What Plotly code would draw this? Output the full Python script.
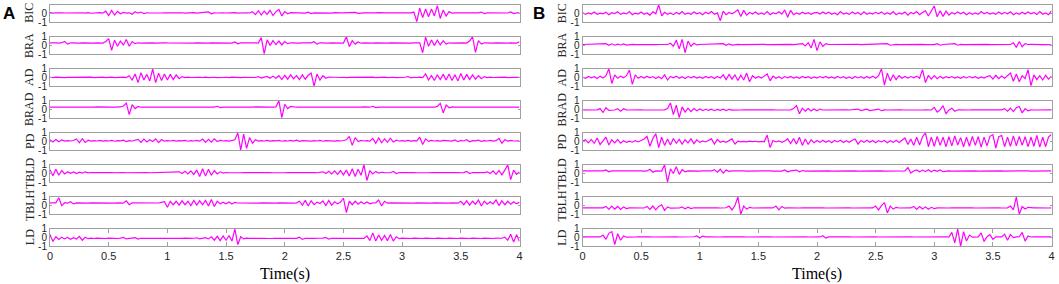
import numpy as np
import plotly.graph_objects as go

# ---------------- data (sampled every 0.025 s, 0..4 s) ----------------
channel_names = ['BIC', 'BRA', 'AD', 'BRAD', 'PD', 'TBLD', 'TBLH', 'LD']
x_tick_vals = [0, 0.5, 1, 1.5, 2, 2.5, 3, 3.5, 4]
x_tick_text = ['0', '0.5', '1', '1.5', '2', '2.5', '3', '3.5', '4']
y_tick_vals = [-1, 0, 1]
y_tick_text = ['-1', '0', '1']

A_BIC = [.08,.02,.07,.03,.06,.04,.05,.08,.02,.06,.04,.07,.03,.09,.01,.06,.05,.08,.02,.25,
         -.25,.35,-.2,.22,-.05,.1,.03,.06,-.1,.18,.02,.15,-.02,.07,.04,.06,.03,.07,.04,.05,
         .06,.03,.08,.04,.05,.07,.02,.06,.05,.08,.03,.06,.04,.07,.16,-.05,.06,.04,.07,.05,
         .04,.06,.05,.08,.03,.06,.05,.07,.04,.2,-.15,.3,-.2,.25,-.1,.35,-.25,.2,.45,-.3,
         .2,-.05,.08,.04,.06,.05,.07,.03,.14,-.02,.06,.05,.04,.07,.05,.06,.03,.08,.04,.06,
         .05,.07,.04,.06,.12,.0,.06,.05,.07,.04,.06,.05,.08,.03,.06,.05,.07,.04,.06,.05,
         .06,.04,.07,.05,.15,-.95,.6,-.5,.5,-.4,.5,-.3,.9,-.6,.4,-.3,.2,.02,.06,.05,
         .07,.04,.06,.05,.07,.04,.06,.15,-.03,.06,.05,.07,.04,.06,.05,.07,.04,.16,-.02,.06,
         .05]
A_BRA = [.3,.26,.29,.27,.31,.45,.15,.3,.27,.29,.26,.3,.28,.27,.3,.26,.29,.28,.27,.45,
         .78,-.57,.6,-.1,.5,.05,.68,-.1,.45,.2,.3,.27,.29,.26,.3,.28,.27,.3,.26,.29,
         .28,.27,.3,.26,.29,.28,.31,.27,.29,.26,.3,.28,.27,.3,.26,.29,.28,.27,.3,.26,
         .29,.28,.27,.4,.18,.29,.27,.3,.26,.28,.29,.27,.9,-.95,.65,.0,.55,.1,.5,.05,
         .45,.2,.3,.27,.29,.26,.3,.28,.27,.29,.43,.15,.3,.27,.29,.26,.3,.28,.27,.29,
         .27,1.0,-.15,.55,.15,.4,.25,.3,.27,.29,.26,.3,.28,.27,.3,.26,.29,.28,.27,.3,
         .26,.29,.28,.27,.3,.26,.29,-.85,.95,-.1,.62,.0,.6,.05,.55,.15,.3,.27,.29,.26,
         .3,.28,.27,.5,1.0,-.8,.55,.15,.3,.27,.29,.26,.3,.28,.27,.3,.26,.29,.28,.27,
         .43]
A_AD = [.02,-.02,.03,-.01,.02,-.03,.01,.02,-.02,.03,-.01,.02,-.02,.01,.03,-.02,.02,-.01,.03,-.02,
        .01,.03,-.02,.02,-.01,.03,-.02,.2,-.3,.4,-.6,.55,-.3,.35,-.4,1.0,-.6,.5,-.35,.4,
        -.3,.35,-.25,.3,-.15,.1,-.02,.03,-.01,.02,-.03,.02,-.01,.03,-.02,.01,.02,-.03,.02,-.01,
        .02,-.02,.03,-.01,.02,-.03,.01,.02,-.02,.03,-.01,.1,-.08,.03,.12,-.1,.15,-.1,.2,-.25,
        .25,-.2,.3,-.15,.2,-.25,.3,-.2,.25,.5,-1.0,.4,-.3,.2,-.1,.05,.02,-.02,.03,-.01,
        .02,-.03,.01,.02,-.02,.03,-.01,.02,-.02,.01,.03,-.02,.02,-.01,.03,-.02,.01,.02,-.03,.02,
        -.01,.02,.1,-.05,.02,-.01,.03,-.02,.4,-.3,.2,-.35,.3,-.25,.35,-.3,.4,-.35,.3,-.4,
        .45,-.3,.35,-.25,.3,-.2,.2,-.15,.1,-.02,.03,-.01,.02,-.02,.01,.03,-.02,.02,-.01,.02,
        .0]
A_BRAD = [.28,.26,.27,.29,.26,.28,.27,.26,.28,.27,.29,.26,.27,.28,.26,.27,.29,.27,.26,.28,
          .27,.26,.28,.27,.29,.4,.73,-.6,.55,.1,.35,.26,.28,.27,.26,.28,.27,.29,.26,.27,
          .28,.26,.27,.29,.27,.26,.28,.27,.26,.28,.27,.29,.26,.27,.28,.26,.27,.37,.22,.28,
          .27,.26,.28,.27,.29,.26,.27,.28,.26,.27,.29,.27,.26,.28,.27,.26,.28,.3,1.0,-.95,
          .6,.1,.35,.27,.26,.28,.27,.29,.26,.27,.28,.26,.27,.29,.27,.26,.28,.27,.26,.28,
          .27,.29,.26,.27,.28,.26,.27,.29,.27,.26,.37,.22,.27,.26,.28,.27,.29,.26,.27,.28,
          .26,.27,.29,.27,.26,.28,.27,.26,.28,.27,.29,.26,.35,.7,-.4,.5,.2,.3,.27,.26,
          .28,.27,.29,.26,.27,.28,.26,.27,.29,.27,.26,.28,.27,.26,.28,.27,.29,.26,.27,.28,
          .27]
A_PD = [.2,-.05,.22,-.02,.18,.05,.1,.06,.12,.3,-.15,.32,-.1,.15,.05,.1,.06,.12,.04,.1,
        .06,.12,.03,.1,.07,.15,.0,.1,.06,.12,.25,-.1,.28,-.05,.2,.0,.3,-.12,.22,.04,
        .1,.06,.12,.04,.1,.07,.13,.03,.1,.06,.12,.04,.28,-.1,.25,-.08,.3,.0,.12,.06,
        .1,.05,.12,.2,1.0,-1.0,.85,-.8,.45,-.2,.2,.05,.1,.06,.12,.04,.1,.07,.13,.03,
        .1,.06,.12,.04,.15,.02,.1,.07,.12,.04,.1,.06,.13,.03,.1,.07,.12,.04,.1,.06,
        .12,.2,.6,-.45,.45,.0,.12,.06,.1,.04,.35,-.2,.4,-.15,.3,-.1,.38,-.05,.15,.06,
        .1,.05,.12,.04,.1,.07,.5,-.35,.3,.02,.12,.06,.1,.04,.12,.07,.1,.05,.18,-.02,
        .12,.06,.2,-.04,.1,.07,.15,.02,.1,.06,.12,.04,.1,.35,-.2,.2,.05,.12,.06,.1,
        .08]
A_TBLD = [.45,-.25,.5,-.2,.35,-.05,.2,.02,.18,.0,.15,.05,.2,.08,.12,.09,.11,.1,.12,.09,
          .11,.1,.09,.12,.1,.11,.09,.1,.12,.1,.09,.11,.1,.12,.09,.1,.11,.09,.12,.1,
          .09,.11,.1,.12,.2,.0,.25,-.05,.3,-.1,.4,-.35,.55,-.3,.5,-.2,.35,-.05,.2,.05,
          .12,.09,.11,.1,.12,.09,.1,.11,.09,.12,.1,.11,.09,.1,.12,.1,.09,.11,.1,.12,
          .09,.1,.11,.09,.12,.1,.11,.09,.1,.12,.1,.09,.11,.2,.0,.25,-.05,.3,-.1,.35,
          -.15,.4,-.3,.55,-.35,.5,-.2,1.0,-.8,.35,-.05,.25,.05,.15,.1,.11,.09,.25,.0,.12,
          .1,.11,.09,.12,.1,.09,.11,.1,.12,.09,.1,.11,.09,.12,.1,.11,.09,.1,.12,.1,
          .09,.11,.25,.0,.12,.1,.09,.11,.1,.2,.0,.3,-.1,.35,-.15,.4,1.0,-.7,.4,-.1,
          .2]
A_TBLH = [.31,.29,.32,.9,.0,.35,.28,.45,.2,.31,.29,.3,.32,.28,.31,.3,.29,.32,.3,.28,
          .31,.3,.29,.32,.3,.28,.55,.1,.31,.3,.29,.32,.28,.31,.3,.29,.32,.3,.38,.45,
          -.2,.5,.1,.5,.05,.55,.1,.5,.0,.6,.05,.55,.1,.6,-.05,.7,-.1,.5,.2,.4,
          .2,.42,.18,.38,.3,.29,.32,.3,.28,.31,.3,.29,.32,.3,.28,.31,.3,.29,.32,.3,
          .28,.31,.3,.29,.32,.5,.05,.6,-.05,.55,.1,.4,.25,.55,.0,.6,.05,.45,.2,.4,
          .85,-.8,.5,.1,.5,.15,.45,.2,.42,.2,.31,.3,.65,-.05,.5,.28,.31,.3,.29,.32,
          .3,.28,.31,.3,.29,.32,.3,.28,.31,.3,.29,.32,.3,.28,.31,.3,.29,.32,.3,.28,
          .5,.1,.55,.05,.5,.15,.65,-.05,.5,.15,.45,.2,.65,.0,.55,.1,.5,.15,.45,.2,
          .4]
A_LD = [.35,-.45,.1,-.2,.05,-.15,.02,-.18,.0,-.15,.15,-.3,.05,-.12,-.05,-.1,-.06,-.09,-.07,-.1,
        -.06,-.09,-.07,-.1,-.06,.02,-.15,-.08,-.06,.0,-.16,-.07,-.09,-.06,-.1,-.07,-.09,-.06,-.1,-.08,
        -.07,-.09,-.06,-.1,-.07,-.09,-.06,-.1,-.08,-.07,-.02,-.14,-.06,.0,-.15,.1,-.3,.15,-.35,.2,
        -.3,.25,-.4,1.0,-.8,.1,-.15,-.05,-.09,-.07,-.1,-.06,-.09,-.07,-.1,-.06,-.09,-.07,-.1,-.06,
        -.09,-.07,-.1,-.06,-.09,.05,-.2,-.07,-.1,-.06,-.09,-.07,-.1,-.06,.03,-.18,-.07,-.1,-.06,-.09,
        -.07,-.1,-.06,-.09,-.07,-.1,-.06,-.09,.2,-.35,.55,-.4,.3,-.3,.25,-.35,.35,-.4,.1,-.12,
        -.06,-.09,-.07,-.1,-.06,-.09,-.07,-.1,-.06,-.09,-.07,-.1,-.06,-.09,-.07,-.1,-.06,-.09,-.07,-.1,
        -.06,-.09,-.07,-.1,-.06,-.09,-.07,-.1,-.06,-.09,-.07,-.1,-.06,-.09,-.07,.05,-.3,.4,-.5,.35,
        -.45]

B_BIC = [.1,-.12,.05,-.08,.15,-.1,.02,-.05,.12,-.15,.08,-.03,.18,-.12,.05,-.06,.2,-.15,.03,-.08,
         .15,-.1,.05,-.2,.18,-.05,1.0,-.3,.12,-.1,.05,-.15,.1,-.08,.2,-.12,.05,-.1,.15,-.05,
         .08,-.15,.12,-.05,.2,-.1,.05,-.85,.25,-.15,.1,-.05,.15,.4,-.35,.35,-.2,.1,-.08,.15,
         -.1,.05,-.12,.2,-.15,.08,-.05,.18,-.1,.4,-.45,.35,-.15,.05,-.1,.12,-.05,.08,-.12,.05,
         .1,-.08,.15,-.05,.12,-.1,.05,-.15,.2,-.08,.05,-.12,.15,-.05,.1,-.15,.18,-.1,.05,-.08,
         .12,-.05,.15,-.12,.08,-.1,.2,-.15,.05,-.08,.15,-.2,.1,-.05,.2,-.15,.1,.3,-.3,.35,
         .85,-.4,.3,-.35,.25,-.2,.1,-.08,.15,-.05,.12,-.15,.08,-.1,.05,-.12,.2,-.05,.1,-.08,
         .05,-.12,.15,-.08,.12,-.05,.18,-.15,.05,-.1,.12,-.08,.15,-.05,.1,-.12,.2,-.1,.05,-.15,
         .3]
B_BRA = [.1,.11,.09,.1,.12,.09,.1,.11,.2,.0,.18,.02,.15,.05,.18,.04,.1,.11,.09,.12,
         .1,.09,.11,.1,.12,.09,.1,.11,.09,.1,.25,-.1,.6,-.4,.7,-.85,.5,-.1,.25,.05,
         .1,.11,.09,.1,.12,.09,.1,.11,.2,.0,.18,.03,.1,.11,.09,.1,.12,.09,.1,.11,
         .09,.1,.12,.09,.1,.11,.09,.1,.12,.09,.1,.11,.09,.1,.12,.2,-.05,.3,-.3,.7,
         -.6,.4,-.1,.2,.1,.11,.09,.1,.12,.09,.1,.11,.09,.1,.12,.09,.1,.11,.09,.1,
         .12,.09,.1,.11,.2,.02,.1,.11,.09,.1,.12,.09,.1,.11,.09,.1,.12,.09,.1,.11,
         .09,.2,.02,.1,.12,.09,.1,.2,.02,.11,.09,.1,.12,.09,.1,.11,.09,.1,.12,.09,
         .1,.11,.09,.1,.12,.09,.1,.3,-.25,.45,-.15,.2,.1,.11,.09,.1,.12,.09,.1,.11,
         .05]
B_AD = [.05,-.1,.12,-.05,.08,-.12,.15,-.08,.2,1.0,-.7,.3,-.1,.15,-.05,.2,.85,-.8,.3,-.1,
        .12,-.08,.15,-.05,.1,-.12,.08,-.15,.3,-.3,.12,-.05,.15,-.1,.08,-.12,.1,-.05,.12,-.08,
        .05,-.1,.12,-.05,.08,-.12,.1,-.06,.3,-.25,.35,-.2,.3,-.35,.25,-.3,.5,-.5,.2,-.1,
        .12,-.08,.15,.4,-.4,.15,-.1,.08,-.12,.1,-.05,.12,-.08,.05,-.1,.12,-.05,.08,-.1,.06,
        -.08,.1,-.05,.12,-.08,.05,-.1,.12,-.06,.08,-.1,.05,-.12,.1,-.06,.08,-.1,.12,-.08,.15,
        -.1,.2,1.0,-.9,.5,-.4,.3,-.25,.2,-.1,.12,-.08,.1,-.05,.15,-.1,.9,-.6,.25,-.2,
        .2,-.15,.12,-.1,.08,-.05,.1,-.08,.05,-.1,.08,-.06,.1,-.05,.08,-.1,.06,-.08,.1,.2,
        -.2,.25,-.15,.15,-.1,.2,.5,-.45,.4,-.5,.2,-.15,.9,-.95,.3,-.25,.2,-.3,.25,-.2,
        .15]
B_BRAD = [-.04,-.06,-.05,-.04,-.06,-.05,.1,-.35,.2,-.1,-.04,-.06,.1,-.2,.08,-.05,-.06,-.04,-.05,-.06,
          -.04,-.06,-.05,-.04,-.06,-.05,-.04,-.06,-.05,.1,.75,-.6,.5,-.95,.3,-.3,.15,-.25,.1,-.15,
          .05,-.12,.02,-.1,.03,-.14,.0,-.1,.04,-.12,.02,-.08,-.05,-.04,-.06,-.05,-.04,-.06,-.05,-.04,
          -.06,-.05,-.04,-.06,-.05,-.04,-.06,-.05,-.04,-.06,-.05,-.04,.1,.45,-.5,.15,-.2,.1,-.18,.05,
          -.15,.05,-.06,-.05,-.04,-.06,-.05,-.04,-.06,-.05,-.04,-.06,-.05,-.04,.05,-.13,-.05,.04,-.12,-.05,
          -.04,.05,-.14,-.05,-.06,-.04,-.05,-.06,-.04,-.05,-.06,-.04,-.05,-.06,-.04,-.05,-.06,-.04,-.05,-.06,
          .25,-.3,-.05,.45,-.5,-.05,.15,-.2,-.04,-.06,-.05,-.04,-.06,-.05,-.04,-.06,-.05,-.04,-.06,-.05,
          -.04,-.06,-.05,-.04,.1,-.2,.15,-.25,.2,.35,-.4,.1,-.15,-.04,-.06,-.05,-.04,-.06,-.05,-.04,
          -.05]
B_PD = [.02,.2,-.15,.25,-.2,.4,-.35,.15,.5,-.4,.2,-.15,.25,-.2,.08,-.1,.05,-.08,.1,-.05,
        .08,.3,.6,-.55,.35,.9,-.7,.5,-.45,.3,-.4,.35,-.2,.25,-.3,.2,-.15,.3,-.25,.2,
        -.1,.08,-.05,.1,.3,-.3,.25,-.08,.05,-.1,.08,.3,-.3,.03,-.04,.02,-.03,.04,-.02,.03,
        -.04,.02,-.03,.75,-.7,.1,-.05,.08,-.1,.05,.3,-.25,.35,-.3,.5,-.45,.3,-.35,.2,-.15,
        .12,-.1,.15,-.08,.1,-.15,.12,-.05,.15,-.12,.1,-.08,.15,.3,-.3,.12,-.1,.15,-.08,.12,
        -.15,.1,-.05,.12,-.15,.08,-.1,.15,-.12,.1,.4,-.35,.3,-.45,.5,-.4,.55,1.0,-.6,.5,
        -.55,.6,-.45,.5,-.6,.55,-.5,.65,-.4,.45,-.6,.5,-.55,.6,-.45,.55,-.65,.5,-.5,.6,
        .8,-.75,.55,.7,-.6,.5,-.55,.65,-.5,.6,-.45,.55,-.6,.5,-.55,.7,-.65,.5,-.6,.55,
        .8]
B_TBLD = [.3,.31,.29,.3,.32,.29,.3,.31,.42,.2,.3,.31,.29,.3,.32,.29,.3,.31,.29,.3,
          .32,.29,.3,.5,.15,.3,.31,.29,1.0,-1.0,.55,.0,.8,-.1,.45,.2,.31,.29,.3,.32,
          .29,.3,.31,.29,.3,.45,.15,.5,.05,.4,.25,.3,.32,.29,.3,.31,.29,.3,.32,.29,
          .3,.31,.29,.3,.32,.29,.3,.31,.29,.42,.2,.3,.31,.4,.2,.35,.29,.3,.32,.29,
          .3,.31,.29,.3,.32,.29,.3,.31,.29,.3,.32,.29,.3,.31,.29,.3,.32,.29,.3,.31,
          .29,.3,.32,.29,.3,.31,.29,.3,.32,.29,.3,.7,.05,.3,.42,.2,.4,.22,.45,.2,
          .4,.25,.42,.22,.3,.31,.29,.3,.32,.29,.3,.31,.29,.3,.32,.29,.3,.31,.29,.3,
          .32,.29,.3,.31,.29,.3,.32,.29,.3,.31,.29,.3,.32,.29,.3,.31,.29,.3,.32,.29,
          .3]
B_TBLH = [-.27,-.26,-.28,-.27,-.25,-.28,-.27,-.26,-.1,-.45,-.05,-.4,-.1,-.45,-.15,-.35,-.27,-.26,-.28,-.27,
          -.25,-.28,-.1,-.45,-.05,-.5,-.1,.1,-.55,-.15,-.3,-.27,-.26,-.28,-.15,-.38,-.18,-.35,-.25,-.27,
          -.26,-.28,-.27,-.25,-.28,-.27,-.26,-.28,-.27,-.25,-.05,-.5,.0,1.0,-1.0,-.05,-.4,-.2,-.28,-.27,
          -.26,-.28,-.27,-.25,-.28,-.27,-.05,-.5,-.1,-.3,-.26,-.28,-.27,-.25,-.28,-.27,-.26,-.28,-.27,-.25,
          -.28,-.27,-.26,-.28,-.27,-.25,-.28,-.27,-.26,-.28,-.27,-.25,-.28,-.27,-.26,-.28,-.27,-.25,-.28,-.27,
          -.05,-.5,.0,.35,-.85,-.05,-.4,-.2,-.28,-.27,-.26,-.28,-.27,-.1,-.45,-.12,-.4,-.15,-.42,-.2,
          -.35,-.26,-.28,-.27,-.25,-.28,-.27,-.26,-.28,-.27,-.25,-.28,-.27,-.26,-.28,-.27,-.25,-.28,-.27,-.26,
          -.28,-.27,-.25,-.28,-.27,-.26,-.05,-.5,1.0,-1.0,-.1,-.4,-.2,-.28,-.27,-.26,-.28,-.27,-.25,-.28,
          -.27]
B_LD = [.08,.09,.07,.08,.1,.07,.08,.3,-.2,.5,.7,-.8,.45,-.3,.2,.05,.08,.09,.07,.08,
        .1,.07,.08,.09,.07,.08,.1,.07,.08,.09,.07,.08,.1,.07,.08,.09,.07,.08,.1,.2,
        -.05,.18,.08,.09,.07,.08,.1,.07,.08,.09,.07,.08,.1,.07,.08,.09,.07,.08,.1,.07,
        .08,.09,.07,.08,.1,.07,.08,.09,.07,.08,.1,.07,.08,.09,.07,.08,.1,.07,.08,.09,
        .07,.08,.22,-.06,.08,.09,.07,.08,.1,.07,.08,.09,.07,.08,.1,.07,.08,.09,.07,.08,
        .1,.07,.08,.09,.07,.08,.1,.07,.08,.09,.07,.08,.1,.07,.08,.09,.07,.08,.1,.07,
        .08,.09,.07,.08,.1,.07,.6,-.6,1.0,-1.0,.7,-.4,.3,.05,.08,.09,.55,-.45,.1,.35,
        -.2,.1,.08,.09,.4,-.3,.35,.0,.08,.1,.6,-.4,.2,.07,.08,.09,.07,.08,.1,.07,
        .08]

panel_A = [A_BIC, A_BRA, A_AD, A_BRAD, A_PD, A_TBLD, A_TBLH, A_LD]
panel_B = [B_BIC, B_BRA, B_AD, B_BRAD, B_PD, B_TBLD, B_TBLH, B_LD]

# ---------------- layout ----------------
W, H = 1059, 284
GRAY = '#a0a0a0'
TXT = '#262626'
SIG = '#FF00FF'
SANS = 'Liberation Sans, Arial, sans-serif'
SERIF = 'Liberation Serif, Times New Roman, serif'

panels = [('A', panel_A, 50.0, 519.5, 9.0), ('B', panel_B, 582.5, 1051.5, 539.0)]
row_top0, pitch, row_h = 4.7, 32.04, 17.3

fig = go.Figure()
layout = {}
annotations = []
k = 0
for lab, data, x0, x1, labx in panels:
    for r, name in enumerate(channel_names):
        k += 1
        xa = 'x' if k == 1 else f'x{k}'
        ya = 'y' if k == 1 else f'y{k}'
        vals = data[r]
        t = np.linspace(0, 4, len(vals))
        fig.add_trace(go.Scatter(x=t, y=vals, xaxis=xa, yaxis=ya, mode='lines',
                                 line=dict(color=SIG, width=1.2), showlegend=False,
                                 hoverinfo='skip'))
        top = row_top0 + pitch * r
        bot = top + row_h
        bottom_row = (r == len(channel_names) - 1)
        xkey = 'xaxis' if k == 1 else f'xaxis{k}'
        ykey = 'yaxis' if k == 1 else f'yaxis{k}'
        layout[xkey] = dict(domain=[x0 / W, x1 / W], anchor=ya, range=[0, 4],
                            automargin=False,
                            showline=True, mirror='ticks' if bottom_row else True,
                            linecolor=GRAY, linewidth=1, showgrid=False, zeroline=False,
                            ticks='inside' if bottom_row else '', ticklen=4, tickcolor=GRAY,
                            tickvals=x_tick_vals, ticktext=x_tick_text,
                            showticklabels=bottom_row,
                            tickfont=dict(family=SANS, size=11, color=TXT))
        layout[ykey] = dict(domain=[1 - bot / H, 1 - top / H], anchor=xa, range=[-1, 1],
                            automargin=False,
                            showline=True, mirror='ticks', linecolor=GRAY, linewidth=1,
                            showgrid=False, zeroline=False, ticks='inside', ticklen=2,
                            tickcolor=GRAY, tickvals=y_tick_vals, ticktext=y_tick_text,
                            tickfont=dict(family=SANS, size=10, color=TXT))
        annotations.append(dict(text=name, xref='paper', yref='paper',
                                x=(x0 - 20.5) / W, y=1 - (top + bot) / 2 / H,
                                xanchor='center', yanchor='middle', textangle=-90,
                                showarrow=False, font=dict(family=SERIF, size=12, color=TXT)))
    annotations.append(dict(text='Time(s)', xref='paper', yref='paper',
                            x=(x0 + x1) / 2 / W, y=1 - 274 / H, xanchor='center',
                            yanchor='middle', showarrow=False,
                            font=dict(family=SERIF, size=16, color='#000000')))
    annotations.append(dict(text='<b>' + lab + '</b>', xref='paper', yref='paper',
                            x=labx / W, y=1 - 13 / H, xanchor='center', yanchor='middle',
                            showarrow=False, font=dict(family=SANS, size=17, color='#000000')))

fig.update_layout(width=W, height=H,
                  margin=dict(l=0, r=0, t=0, b=0, pad=0, autoexpand=False),
                  paper_bgcolor='white', plot_bgcolor='white',
                  annotations=annotations, **layout)
fig.write_html('out.html', config={'displayModeBar': False},
               post_script="document.body.style.margin='0';document.body.style.overflow='hidden';")
